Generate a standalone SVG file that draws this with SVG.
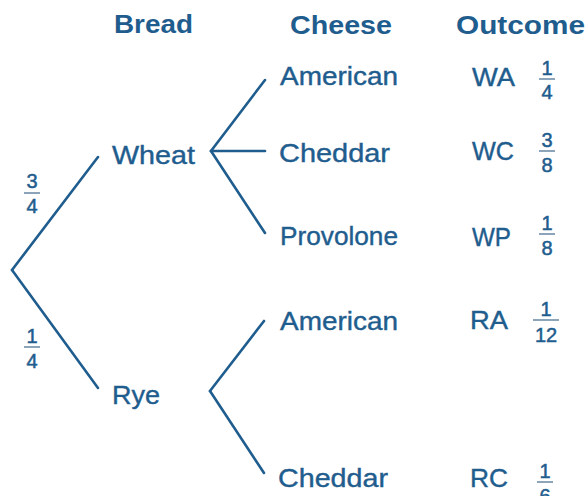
<svg xmlns="http://www.w3.org/2000/svg" width="585" height="496" viewBox="0 0 585 496">
<style>
text{font-family:"Liberation Sans",Arial,sans-serif;fill:#1f5d8e}
.h{font-size:25px;font-weight:bold}
.l{font-size:26px;stroke:#1f5d8e;stroke-width:0.4}
.o{font-size:25px;stroke:#1f5d8e;stroke-width:0.4}
.f{font-size:20px;text-anchor:middle;stroke:#1f5d8e;stroke-width:0.5}
.bar{stroke:#6f8ea8;stroke-width:1.6}
.c line{stroke:#1f5d8e;stroke-width:2.6;stroke-linecap:round}
</style>
<rect width="585" height="496" fill="#ffffff"/>
<g id="headers">
<text class="h" x="114" y="33" textLength="79" lengthAdjust="spacingAndGlyphs">Bread</text>
<text class="h" x="290" y="34" textLength="102" lengthAdjust="spacingAndGlyphs">Cheese</text>
<text class="h" x="456" y="34" textLength="129" lengthAdjust="spacingAndGlyphs">Outcome</text>
</g>
<g class="c" id="connectors">
<line x1="12" y1="270" x2="98" y2="157"/>
<line x1="12" y1="270" x2="98" y2="388"/>
<line x1="211" y1="151" x2="265" y2="80"/>
<line x1="211" y1="151" x2="265" y2="151"/>
<line x1="211" y1="151" x2="265" y2="233"/>
<line x1="210" y1="391" x2="264" y2="321"/>
<line x1="210" y1="391" x2="264" y2="473"/>
</g>
<g id="p-wheat">
<text class="f" x="32" y="188">3</text>
<line class="bar" x1="24" y1="193" x2="40" y2="193"/>
<text class="f" x="32" y="213">4</text>
</g>
<g id="p-rye">
<text class="f" x="32" y="343">1</text>
<line class="bar" x1="24" y1="347" x2="40" y2="347"/>
<text class="f" x="32" y="368">4</text>
</g>
<g id="wheat"><text class="l" x="112" y="164" textLength="83" lengthAdjust="spacingAndGlyphs">Wheat</text></g>
<g id="rye"><text class="l" x="112" y="404" textLength="48" lengthAdjust="spacingAndGlyphs">Rye</text></g>
<g id="w-american"><text class="l" x="280" y="85" textLength="118" lengthAdjust="spacingAndGlyphs">American</text></g>
<g id="w-cheddar"><text class="l" x="279" y="162" textLength="111" lengthAdjust="spacingAndGlyphs">Cheddar</text></g>
<g id="w-provolone"><text class="l" x="280" y="245" textLength="118" lengthAdjust="spacingAndGlyphs">Provolone</text></g>
<g id="r-american"><text class="l" x="280" y="330" textLength="118" lengthAdjust="spacingAndGlyphs">American</text></g>
<g id="r-cheddar"><text class="l" x="278" y="487" textLength="110" lengthAdjust="spacingAndGlyphs">Cheddar</text></g>
<g id="o-wa">
<text class="o" x="472" y="86" textLength="43" lengthAdjust="spacingAndGlyphs">WA</text>
<text class="f" x="547" y="75">1</text>
<line class="bar" x1="539" y1="79" x2="555" y2="79"/>
<text class="f" x="547" y="99">4</text>
</g>
<g id="o-wc">
<text class="o" x="472" y="160" textLength="42" lengthAdjust="spacingAndGlyphs">WC</text>
<text class="f" x="547" y="147">3</text>
<line class="bar" x1="539" y1="151" x2="555" y2="151"/>
<text class="f" x="547" y="172">8</text>
</g>
<g id="o-wp">
<text class="o" x="472" y="246" textLength="39" lengthAdjust="spacingAndGlyphs">WP</text>
<text class="f" x="547" y="230">1</text>
<line class="bar" x1="539" y1="234" x2="555" y2="234"/>
<text class="f" x="547" y="255">8</text>
</g>
<g id="o-ra">
<text class="o" x="470" y="329" textLength="38" lengthAdjust="spacingAndGlyphs">RA</text>
<text class="f" x="546" y="316">1</text>
<line class="bar" x1="533" y1="320" x2="559" y2="320"/>
<text class="f" x="546" y="342">12</text>
</g>
<g id="o-rc">
<text class="o" x="470" y="487" textLength="38" lengthAdjust="spacingAndGlyphs">RC</text>
<text class="f" x="545" y="478">1</text>
<line class="bar" x1="537" y1="482" x2="553" y2="482"/>
<text class="f" x="545" y="503">6</text>
</g>
</svg>
